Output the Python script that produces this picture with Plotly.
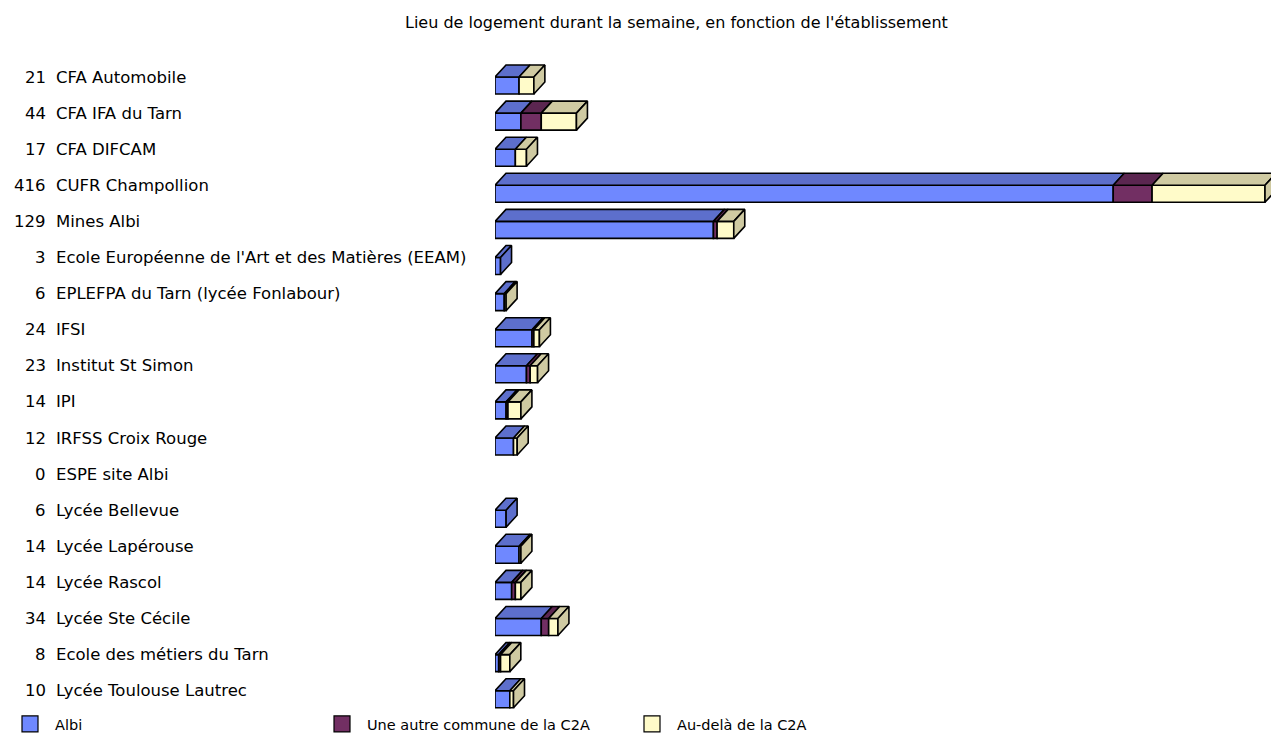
import plotly.graph_objects as go

# ---------------- data ----------------
etablissements = [
    "CFA Automobile", "CFA IFA du Tarn", "CFA DIFCAM", "CUFR Champollion", "Mines Albi",
    "Ecole Européenne de l'Art et des Matières (EEAM)", "EPLEFPA du Tarn (lycée Fonlabour)",
    "IFSI", "Institut St Simon", "IPI", "IRFSS Croix Rouge", "ESPE site Albi",
    "Lycée Bellevue", "Lycée Lapérouse", "Lycée Rascol", "Lycée Ste Cécile",
    "Ecole des métiers du Tarn", "Lycée Toulouse Lautrec",
]
effectifs = [21, 44, 17, 416, 129, 3, 6, 24, 23, 14, 12, 0, 6, 14, 14, 34, 8, 10]
albi = [13, 14, 11, 334, 118, 3, 5, 20, 17, 6, 10, 0, 6, 13, 9, 25, 2, 8]
autre_commune = [0, 11, 0, 21, 2, 0, 0, 1, 2, 1, 0, 0, 0, 0, 2, 4, 1, 0]
au_dela = [8, 19, 6, 61, 9, 0, 1, 3, 4, 7, 2, 0, 0, 1, 3, 5, 5, 2]
series_names = ["Albi", "Une autre commune de la C2A", "Au-delà de la C2A"]
titre = "Lieu de logement durant la semaine, en fonction de l'établissement"

# ---------------- styles ----------------
front_colors = ["#6F88FF", "#722F63", "#FFFBC9"]
top_colors = ["#5D6FCC", "#5B2650", "#CFCAA2"]
FONT = "DejaVu Sans, Verdana, sans-serif"

W, H = 1271, 734
L, R, T, B = 495, 0, 40, 24
PX_PER_UNIT = 770 / 416
ROW_PX = 36.1
FIRST_ROW_PX = 77
plot_w = W - L - R
plot_h = H - T - B
xmax = plot_w / PX_PER_UNIT
y_top = (T - FIRST_ROW_PX) / ROW_PX
y_bot = (H - B - FIRST_ROW_PX) / ROW_PX
DX = 11 / PX_PER_UNIT
DY = 12 / ROW_PX
FACE_H = 17 / ROW_PX

series = [albi, autre_commune, au_dela]
n = len(etablissements)
rows = list(range(n))

fig = go.Figure()

bases = [0] * n
tops_x = [[] for _ in series]
tops_y = [[] for _ in series]
side_x = [[] for _ in series]
side_y = [[] for _ in series]
last_seg = [None] * n
for k, vals in enumerate(series):
    b = list(bases)
    xs = [v if v > 0 else None for v in vals]
    fig.add_trace(go.Bar(
        y=rows, x=xs, base=b, orientation="h", width=FACE_H, offset=0,
        marker=dict(color=front_colors[k], line=dict(color="black", width=1.6)),
        name=series_names[k], showlegend=False,
        hovertemplate="%{fullData.name}: %{x}<extra></extra>",
    ))
    for i, v in enumerate(vals):
        if v > 0:
            x0, x1 = b[i], b[i] + v
            tops_x[k] += [x0, x1, x1 + DX, x0 + DX, x0, None]
            tops_y[k] += [i, i, i - DY, i - DY, i, None]
            last_seg[i] = k
        bases[i] += v

for i in range(n):
    k = last_seg[i]
    if k is None:
        continue
    xe = bases[i]
    side_x[k] += [xe, xe, xe + DX, xe + DX, xe, None]
    side_y[k] += [i, i + FACE_H, i + FACE_H - DY, i - DY, i, None]

for k in range(len(series)):
    for xx, yy in ((tops_x[k], tops_y[k]), (side_x[k], side_y[k])):
        if xx:
            fig.add_trace(go.Scatter(
                x=xx, y=yy, mode="lines", fill="toself", fillcolor=top_colors[k],
                line=dict(color="black", width=1.6), hoverinfo="skip", showlegend=False,
            ))

# legend proxies, one legend per series so each can be placed
legend_ids = ["legend", "legend2", "legend3"]
legend_x_px = [5, 317, 627]
for k in range(len(series)):
    fig.add_trace(go.Scatter(
        x=[None], y=[None], mode="markers", name=series_names[k], legend=legend_ids[k],
        marker=dict(symbol="square", size=17, color=front_colors[k],
                    line=dict(color="black", width=1.2)),
    ))

# labels
annotations = []
for i in range(n):
    annotations.append(dict(
        x=(48 - L) / plot_w, xref="paper", y=i, yref="y", text=str(effectifs[i]),
        xanchor="right", yanchor="middle", showarrow=False,
        font=dict(family=FONT, size=16.5, color="black"),
    ))
    annotations.append(dict(
        x=(54 - L) / plot_w, xref="paper", y=i, yref="y", text=etablissements[i],
        xanchor="left", yanchor="middle", showarrow=False,
        font=dict(family=FONT, size=16.5, color="black"),
    ))
annotations.append(dict(
    x=(676 - L) / plot_w, xref="paper", y=1 + (T - 22) / plot_h, yref="paper",
    text=titre, xanchor="center", yanchor="middle", showarrow=False,
    font=dict(family=FONT, size=16, color="black"),
))

legend_common = dict(
    orientation="h", xref="container", yref="container",
    xanchor="left", yanchor="middle", itemwidth=40,
    font=dict(family=FONT, size=14.5, color="black"),
    bgcolor="rgba(0,0,0,0)", itemclick=False, itemdoubleclick=False,
)
legend_layouts = {}
for k, lid in enumerate(legend_ids):
    legend_layouts[lid] = dict(legend_common, x=legend_x_px[k] / W, y=(H - 724) / H)

fig.update_layout(
    width=W, height=H, autosize=False,
    margin=dict(l=L, r=R, t=T, b=B, pad=0, autoexpand=False),
    paper_bgcolor="white", plot_bgcolor="white",
    barmode="overlay",
    xaxis=dict(range=[0, xmax], visible=False, fixedrange=True),
    yaxis=dict(range=[y_bot, y_top], visible=False, fixedrange=True),
    annotations=annotations,
    showlegend=True,
    hovermode="closest",
    **legend_layouts,
)

fig.write_html("out.html", config={"displayModeBar": False},
               post_script="document.body.style.margin='0';")
